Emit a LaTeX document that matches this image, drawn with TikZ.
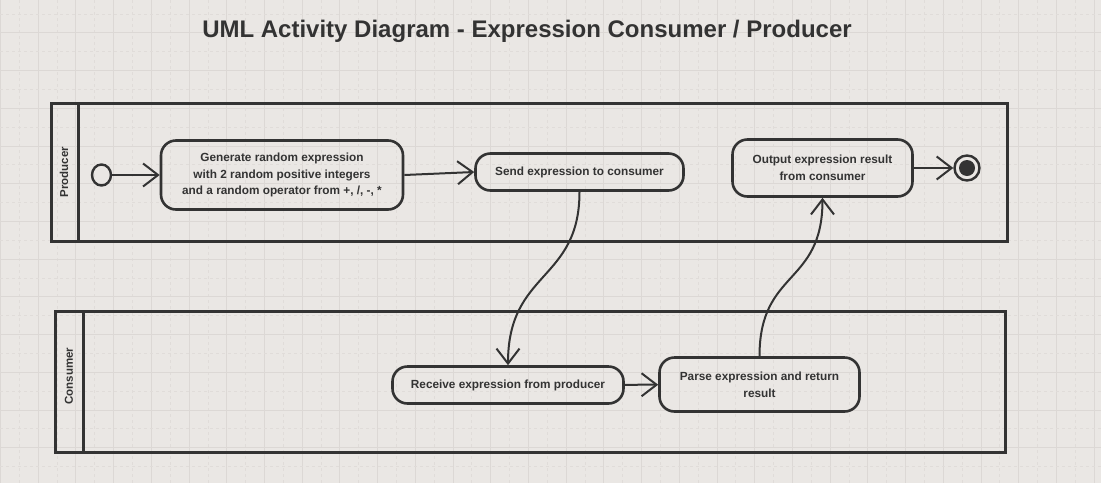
\documentclass[tikz,border=0pt]{standalone}
\usepackage{fontspec}
\setmainfont{Liberation Sans}
\usetikzlibrary{arrows.meta,shapes.geometric}
\definecolor{bg}{HTML}{EAE7E4}
\definecolor{gridsolid}{HTML}{DCD8D5}
\definecolor{griddash}{HTML}{E0DCD9}
\definecolor{ink}{HTML}{333333}
\begin{document}
\begin{tikzpicture}[x=1pt,y=-1pt,
  act/.style={draw=ink, line width=2.6pt, rounded corners=15pt, align=center,
    font=\bfseries\fontsize{11.8}{16.8}\selectfont, text=ink, inner sep=0pt},
  lane/.style={draw=ink, line width=3pt},
  lanelabel/.style={rotate=90, font=\bfseries\fontsize{11.5}{14}\selectfont, text=ink},
  arr/.style={draw=ink, line width=2pt, -{Straight Barb[length=15pt,width=23pt,line width=2pt]}},
  gsolid/.style={draw=gridsolid, line width=0.9pt},
  gdash/.style={draw=griddash, line width=0.8pt, dash pattern=on 3pt off 3pt}
]
\fill[bg] (0,0) rectangle (1101,483);
\useasboundingbox (0,0) rectangle (1101,483);
% grid
\foreach \i in {0,...,29} {
  \draw[gdash] ({0.5+37.71*\i+18.85},0) -- ++(0,483);
  \draw[gsolid] ({0.5+37.71*\i},0) -- ++(0,483);
}
\foreach \j in {0,...,13} {
  \draw[gdash] (0,{-4.8+37.71*\j+18.85}) -- ++(1101,0);
  \draw[gsolid] (0,{-4.8+37.71*\j}) -- ++(1101,0);
}
% title
\node[font=\bfseries\fontsize{24}{28}\selectfont, text=ink] (title) at (527,31) {UML Activity Diagram - Expression Consumer / Producer};
% lanes
\draw[lane] (51,103.5) rectangle (1007,241.5);
\draw[lane] (78,103.5) -- (78,241.5);
\node[lanelabel] (lp) at (64,172) {Producer};
\draw[lane] (55.5,311) rectangle (1005.5,452);
\draw[lane] (83,311) -- (83,452);
\node[lanelabel] (lc) at (69,376) {Consumer};
% nodes
\node[draw=ink, line width=2.4pt, ellipse, minimum width=19pt, minimum height=21pt, inner sep=0pt] (I) at (101.5,175) {};
\node[act, minimum width=242pt, minimum height=69pt] (A) at (282,175) {Generate random expression\\with 2 random positive integers\\and a random operator from +, /, -, *};
\node[act, minimum width=208pt, minimum height=37pt] (B) at (579.5,172) {Send expression to consumer};
\node[act, minimum width=180pt, minimum height=57pt] (C) at (822.5,168) {Output expression result\\from consumer};
\node[draw=ink, line width=2.4pt, circle, minimum size=25pt, inner sep=0pt] (F) at (967,168) {};
\fill[ink] (F.center) circle (8pt);
\node[act, minimum width=231pt, minimum height=37pt] (D) at (508,385) {Receive expression from producer};
\node[act, minimum width=200pt, minimum height=54pt] (E) at (759.5,384.5) {Parse expression and return\\result};
% connectors
\draw[arr] (I) -- (A);
\draw[arr] (A.east) -- (B.west);
\draw[arr] (C) -- (F);
\draw[arr] (D) -- (E);
\draw[arr] (B.south) .. controls +(0,90) and +(0,-95) .. (D.north);
\draw[arr] (E.north) .. controls +(0,-87) and +(0,88) .. (C.south);
\end{tikzpicture}
\end{document}
